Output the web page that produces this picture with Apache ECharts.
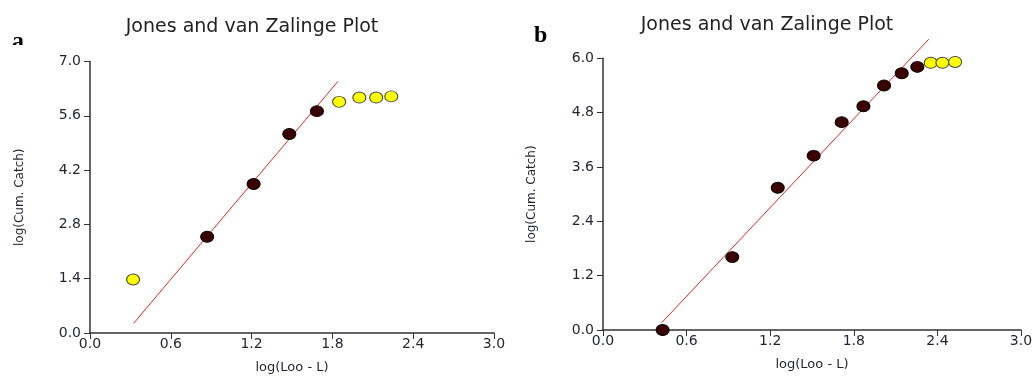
<!DOCTYPE html>
<html>
<head>
<meta charset="utf-8">
<script src="https://cdn.jsdelivr.net/npm/echarts@6/dist/echarts.min.js"></script>
<style>
  html, body { margin: 0; padding: 0; background: #fff; }
  #myChart { width: 1034px; height: 377px; }
</style>
</head>
<body>
<div id="myChart"></div>
<script>
// panel a
var aFitX = [0.87, 1.215, 1.48, 1.685];
var aFitY = [2.48, 3.84, 5.13, 5.72];
var aOutX = [0.32, 1.85, 2.0, 2.125, 2.237];
var aOutY = [1.38, 5.96, 6.07, 6.07, 6.10];
var aLine = [[0.324, 0.25], [1.842, 6.49]];

// panel b
var bFitX = [0.428, 0.928, 1.254, 1.512, 1.713, 1.869, 2.017, 2.144, 2.256];
var bFitY = [0.0, 1.61, 3.14, 3.85, 4.59, 4.94, 5.40, 5.67, 5.81];
var bOutX = [2.352, 2.436, 2.527];
var bOutY = [5.90, 5.90, 5.92];
var bLine = [[0.421, 0.16], [2.338, 6.42]];

var titleText = "Jones and van Zalinge Plot";
var xName = "log(Loo - L)";
var yName = "log(Cum. Catch)";

function pairs(xs, ys) {
  var out = [];
  for (var i = 0; i < xs.length; i++) out.push([xs[i], ys[i]]);
  return out;
}

var fontFam = "DejaVu Sans, Verdana, sans-serif";
var axisTxt = { color: "#1f2430", fontFamily: fontFam, fontSize: 14 };

function xAxisFor(idx) {
  return {
    gridIndex: idx, type: "value", min: 0, max: 3, interval: 0.6,
    name: xName, nameLocation: "middle", nameGap: 28,
    nameTextStyle: { color: "#1f2430", fontFamily: fontFam, fontSize: 13 },
    axisLine: { show: true, onZero: false, lineStyle: { color: "#333", width: 1.5 } },
    axisTick: { show: true, inside: false, length: 6, lineStyle: { color: "#333" } },
    axisLabel: Object.assign({ margin: 4, formatter: function (v) { return v.toFixed(1); } }, axisTxt),
    splitLine: { show: false }
  };
}
function yAxisFor(idx, max, step) {
  return {
    gridIndex: idx, type: "value", min: 0, max: max, interval: step,
    name: yName, nameLocation: "middle", nameGap: idx === 0 ? 64 : 65,
    nameTextStyle: { color: "#1f2430", fontFamily: fontFam, fontSize: 12 },
    axisLine: { show: true, lineStyle: { color: "#333", width: 1.5 } },
    axisTick: { show: true, inside: false, length: 6, lineStyle: { color: "#333" } },
    axisLabel: Object.assign({ margin: 9, formatter: function (v) { return v.toFixed(1); } }, axisTxt),
    splitLine: { show: false }
  };
}

var fitStyle = { color: "#3a0000", borderColor: "#000", borderWidth: 1, opacity: 1 };
var outStyle = { color: "#ffff00", borderColor: "#444", borderWidth: 1, opacity: 1 };

var option = {
  animation: false,
  backgroundColor: "#fff",
  title: [
    { text: titleText, left: 247, top: 13, textAlign: "center",
      textStyle: { fontFamily: fontFam, fontWeight: "normal", fontSize: 19, color: "#222" } },
    { text: titleText, left: 762, top: 11, textAlign: "center",
      textStyle: { fontFamily: fontFam, fontWeight: "normal", fontSize: 19, color: "#222" } }
  ],
  graphic: [
    { type: "text", left: 12, top: 30, style: { text: "a", font: "bold 24px 'Liberation Serif', serif", fill: "#000" } },
    { type: "text", left: 534, top: 24, style: { text: "b", font: "bold 24px 'Liberation Serif', serif", fill: "#000" } },
    { type: "rect", left: 8, top: 45, shape: { width: 26, height: 12 }, style: { fill: "#fff" }, z: 100 },
    { type: "rect", left: 530, top: 42, shape: { width: 30, height: 12 }, style: { fill: "#fff" }, z: 100 }
  ],
  grid: [
    { left: 90, right: 540, top: 61.5, bottom: 44, outerBoundsMode: "none", containLabel: false },
    { left: 603, right: 13, top: 58.3, bottom: 47, outerBoundsMode: "none", containLabel: false }
  ],
  xAxis: [xAxisFor(0), xAxisFor(1)],
  yAxis: [yAxisFor(0, 7, 1.4), yAxisFor(1, 6, 1.2)],
  series: [
    { type: "line", xAxisIndex: 0, yAxisIndex: 0, data: aLine, symbol: "none", clip: false,
      lineStyle: { color: "#ff2020", width: 1 }, z: 2 },
    { type: "scatter", xAxisIndex: 0, yAxisIndex: 0, data: pairs(aFitX, aFitY), clip: false,
      symbol: "circle", symbolSize: [13, 11], itemStyle: fitStyle, z: 3 },
    { type: "scatter", xAxisIndex: 0, yAxisIndex: 0, data: pairs(aOutX, aOutY), clip: false,
      symbol: "circle", symbolSize: [13, 11], itemStyle: outStyle, z: 3 },
    { type: "line", xAxisIndex: 1, yAxisIndex: 1, data: bLine, symbol: "none", clip: false,
      lineStyle: { color: "#ff2020", width: 1 }, z: 2 },
    { type: "scatter", xAxisIndex: 1, yAxisIndex: 1, data: pairs(bFitX, bFitY), clip: false,
      symbol: "circle", symbolSize: [13, 11], itemStyle: fitStyle, z: 3 },
    { type: "scatter", xAxisIndex: 1, yAxisIndex: 1, data: pairs(bOutX, bOutY), clip: false,
      symbol: "circle", symbolSize: [13, 11], itemStyle: outStyle, z: 3 }
  ]
};

var myChart = echarts.init(document.getElementById("myChart"));
myChart.setOption(option);
</script>
</body>
</html>
